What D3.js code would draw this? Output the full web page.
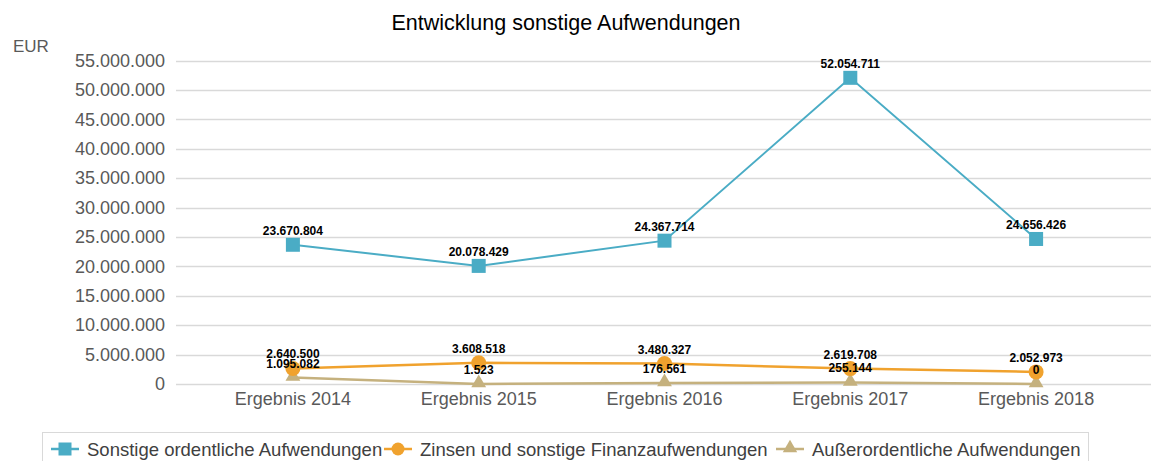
<!DOCTYPE html>
<html>
<head>
<meta charset="utf-8">
<script src="https://cdn.jsdelivr.net/npm/d3@7"></script>
<style>
  body { margin: 0; background: #fff; }
  svg { display: block; font-family: "Liberation Sans", Arial, sans-serif; }
</style>
</head>
<body>
<div id="chart"></div>
<script>
// categories and series values
var categories = ["Ergebnis 2014", "Ergebnis 2015", "Ergebnis 2016", "Ergebnis 2017", "Ergebnis 2018"];
var sonstige = [23670804, 20078429, 24367714, 52054711, 24656426];
var zinsen = [2640500, 3608518, 3480327, 2619708, 2052973];
var ausserord = [1095082, 1523, 176561, 255144, 0];
var seriesNames = ["Sonstige ordentliche Aufwendungen", "Zinsen und sonstige Finanzaufwendungen", "Außerordentliche Aufwendungen"];
var yTicks = [0, 5000000, 10000000, 15000000, 20000000, 25000000, 30000000, 35000000, 40000000, 45000000, 50000000, 55000000];

var w = 1151, h = 461;
var colors = ["#4aacc5", "#f0a22e", "#c5b17e"];

var svg = d3.select("#chart").append("svg")
  .attr("width", w).attr("height", h);

// german number format
var fmt = function(v) {
  return d3.format(",")(v).replace(/,/g, ".");
};

var x = d3.scaleBand().domain(categories).range([200, 1129]);
var y = d3.scaleLinear().domain([0, 55000000]).range([384, 60.5]);

// title
svg.append("text")
  .attr("x", 566).attr("y", 30)
  .attr("text-anchor", "middle")
  .style("font-size", "21.5px")
  .style("fill", "#000")
  .text("Entwicklung sonstige Aufwendungen");

svg.append("text")
  .attr("x", 13).attr("y", 52)
  .style("font-size", "17px")
  .style("fill", "#595959")
  .text("EUR");

// gridlines
svg.append("g").selectAll("line")
  .data(yTicks)
  .enter().append("line")
  .attr("x1", 176).attr("x2", w)
  .attr("y1", function(d) { return Math.round(y(d)) + 0.5; })
  .attr("y2", function(d) { return Math.round(y(d)) + 0.5; })
  .attr("stroke", "#d9d9d9")
  .attr("stroke-width", 1.3);

// y axis labels
var yAxis = d3.axisLeft(y).tickValues(yTicks).tickFormat(fmt).tickSize(0).tickPadding(0);
var gy = svg.append("g").attr("transform", "translate(165,0)").call(yAxis);
gy.select(".domain").remove();
gy.selectAll("text").style("font-size", "18px").style("fill", "#595959")
  .style("font-family", "Liberation Sans, Arial, sans-serif");

// x axis labels
var xAxis = d3.axisBottom(x).tickSize(0).tickPadding(0);
var gx = svg.append("g").attr("transform", "translate(0,392)").call(xAxis);
gx.select(".domain").remove();
gx.selectAll("text").style("font-size", "18px").style("fill", "#595959")
  .style("font-family", "Liberation Sans, Arial, sans-serif");

var cx = function(d, i) { return x(categories[i]) + x.bandwidth() / 2; };
var line = d3.line().x(cx).y(function(d) { return y(d); });

var allSeries = [sonstige, zinsen, ausserord];
var widths = [2, 2.5, 2.5];

// lines (draw back to front)
[2, 1, 0].forEach(function(s) {
  svg.append("path")
    .datum(allSeries[s])
    .attr("fill", "none")
    .attr("stroke", colors[s])
    .attr("stroke-width", widths[s])
    .attr("d", line);
});

var triangle = d3.symbol().type(d3.symbolTriangle).size(95);

function drawMarkers(g, s, data) {
  if (s === 0) {
    g.selectAll("rect").data(data).enter().append("rect")
      .attr("x", function(d, i) { return cx(d, i) - 7; })
      .attr("y", function(d) { return y(d) - 7; })
      .attr("width", 14).attr("height", 14)
      .attr("fill", colors[0]);
  } else if (s === 1) {
    g.selectAll("circle").data(data).enter().append("circle")
      .attr("cx", cx).attr("cy", function(d) { return y(d); })
      .attr("r", 7.5).attr("fill", colors[1]);
  } else {
    g.selectAll("path").data(data).enter().append("path")
      .attr("d", triangle)
      .attr("transform", function(d, i) { return "translate(" + cx(d, i) + "," + (y(d) - 1) + ")"; })
      .attr("fill", colors[2]);
  }
}

[2, 1, 0].forEach(function(s) {
  drawMarkers(svg.append("g"), s, allSeries[s]);
});

// data labels
allSeries.forEach(function(data, s) {
  svg.append("g").selectAll("text")
    .data(data).enter().append("text")
    .attr("x", cx)
    .attr("y", function(d) { return y(d) - 10; })
    .attr("text-anchor", "middle")
    .style("font-size", "12px")
    .style("font-weight", "bold")
    .style("fill", "#000")
    .text(fmt);
});

// legend
var legend = svg.append("g");
legend.append("rect")
  .attr("x", 42.5).attr("y", 432.5)
  .attr("width", 1046).attr("height", 40)
  .attr("fill", "#fff")
  .attr("stroke", "#d9d9d9");

var legendX = [51, 384, 776];
seriesNames.forEach(function(name, s) {
  var lg = legend.append("g").attr("transform", "translate(" + legendX[s] + ",449)");
  lg.append("line").attr("x1", 0).attr("x2", 28).attr("y1", 0).attr("y2", 0)
    .attr("stroke", colors[s]).attr("stroke-width", 2.5);
  if (s === 0) {
    lg.append("rect").attr("x", 7.5).attr("y", -6.5).attr("width", 13).attr("height", 13).attr("fill", colors[0]);
  } else if (s === 1) {
    lg.append("circle").attr("cx", 14).attr("cy", 0).attr("r", 6.5).attr("fill", colors[1]);
  } else {
    lg.append("path").attr("d", d3.symbol().type(d3.symbolTriangle).size(90))
      .attr("transform", "translate(14,-1)").attr("fill", colors[2]);
  }
  lg.append("text").attr("x", 36).attr("y", 6.5)
    .style("font-size", "18.5px").style("fill", "#404040")
    .text(name);
});
</script>
</body>
</html>
